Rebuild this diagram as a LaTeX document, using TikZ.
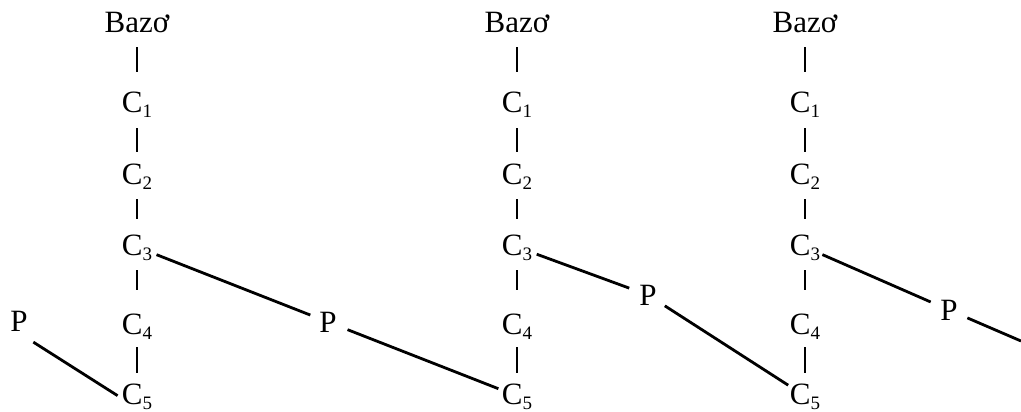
\documentclass[tikz,border=0pt]{standalone}
\usepackage{fontspec}
\setmainfont{Liberation Serif}
\newcommand\sbs[1]{\raisebox{-5pt}{\fontsize{19}{19}\selectfont #1}}
\begin{document}
\begin{tikzpicture}[x=1pt,y=-1pt,
  lbl/.style={inner sep=0pt, text height=21pt, text depth=5pt, font=\fontsize{31}{36}\selectfont},
  pl/.style={inner sep=0pt, text height=20pt, text depth=0pt, font=\fontsize{31}{36}\selectfont},
  bond/.style={line width=2.8pt},
  tk/.style 2 args={bond, shorten <=#1pt, shorten >=#2pt}]
\useasboundingbox (0,0) rectangle (1021,412);
\foreach \c/\x in {1/137,2/517,3/805}{
  \node[lbl] (b\c) at (\x,25) {Bazơ};
  \node[lbl] (c\c1) at (\x,105) {C\sbs{1}};
  \node[lbl] (c\c2) at (\x,176) {C\sbs{2}};
  \node[lbl] (c\c3) at (\x,247) {C\sbs{3}};
  \node[lbl] (c\c4) at (\x,326) {C\sbs{4}};
  \node[lbl] (c\c5) at (\x,396) {C\sbs{5}};
  \draw[tk={9}{20}] (b\c.south) -- (c\c1.north);
  \draw[tk={10}{11}] (c\c1.south) -- (c\c2.north);
  \draw[tk={10}{15}] (c\c2.south) -- (c\c3.north);
  \draw[tk={10}{23}] (c\c3.south) -- (c\c4.north);
  \draw[tk={8}{10}] (c\c4.south) -- (c\c5.north);
}
\node[pl] (p1) at (19,321) {P};
\node[pl] (p2) at (328,322) {P};
\node[pl] (pm) at (648,295) {P};
\node[pl] (p3) at (949,310) {P};
\coordinate (e) at (1021,341);
\draw[bond, shorten <=17pt, shorten >=23pt] ([yshift=-12pt]p1.center) -- ([yshift=-12pt]c15.center);
\draw[tk={21}{19}] (c13.center) -- (p2.center);
\draw[tk={21}{20}] (p2.center) -- (c25.center);
\draw[tk={21}{20}] (c23.center) -- (pm.center);
\draw[tk={20}{20}] (pm.center) -- (c35.center);
\draw[tk={19}{20}] (c33.center) -- (p3.center);
\draw[bond, shorten <=20pt] (p3.center) -- (e);
\end{tikzpicture}
\end{document}
